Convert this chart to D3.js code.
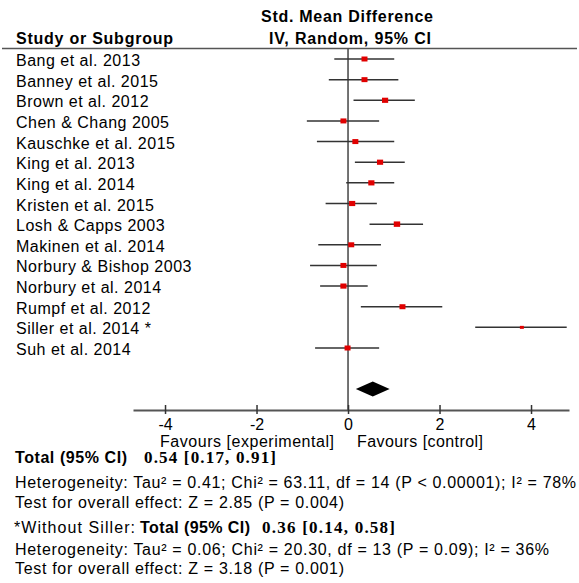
<!DOCTYPE html>
<html>
<head>
<meta charset="utf-8">
<script src="https://cdn.jsdelivr.net/npm/d3@7"></script>
<style>
  body { margin: 0; background: #fff; }
  svg { display: block; font-family: "Liberation Sans", Arial, sans-serif; }
</style>
</head>
<body>
<div id="chart"></div>
<script>
// study rows
const studies = [
  'Bang et al. 2013', 'Banney et al. 2015', 'Brown et al. 2012', 'Chen & Chang 2005',
  'Kauschke et al. 2015', 'King et al. 2013', 'King et al. 2014', 'Kristen et al. 2015',
  'Losh & Capps 2003', 'Makinen et al. 2014', 'Norbury & Bishop 2003', 'Norbury et al. 2014',
  'Rumpf et al. 2012', 'Siller et al. 2014 *', 'Suh et al. 2014'
];
const estimates = [0.36, 0.36, 0.81, -0.10, 0.16, 0.70, 0.51, 0.09, 1.07, 0.07, -0.10, -0.10, 1.19, 3.80, -0.01];
const lowers = [-0.30, -0.42, 0.12, -0.90, -0.68, 0.15, -0.04, -0.49, 0.47, -0.65, -0.83, -0.61, 0.28, 2.78, -0.72];
const uppers = [1.01, 1.10, 1.46, 0.68, 1.01, 1.24, 1.01, 0.63, 1.64, 0.72, 0.63, 0.43, 2.06, 4.78, 0.68];
const weights = [6.8, 6.8, 7.2, 6.8, 6.8, 7.2, 7.2, 7.2, 7.8, 6.8, 6.8, 7.2, 6.8, 3.0, 6.8];

const pooled = [0.54, 0.17, 0.91]; // estimate, lower, upper
const tickValues = [-4, -2, 0, 2, 4];
const axisExtent = [-4.7, 4.83];

const headerTop = 'Std. Mean Difference';
const headerLeft = 'Study or Subgroup';
const headerRight = 'IV, Random, 95% CI';
const favours = ['Favours [experimental]', 'Favours [control]'];

const totalLabel = 'Total (95% CI)';
const totalValue = '0.54 [0.17, 0.91]';
const heterogeneity1 = 'Heterogeneity: Tau² = 0.41; Chi² = 63.11, df = 14 (P < 0.00001); I² = 78%';
const overall1 = 'Test for overall effect: Z = 2.85 (P = 0.004)';
const withoutLabel = '*Without Siller:';
const totalValue2 = '0.36 [0.14, 0.58]';
const heterogeneity2 = 'Heterogeneity: Tau² = 0.06; Chi² = 20.30, df = 13 (P = 0.09); I² = 36%';
const overall2 = 'Test for overall effect: Z = 3.18 (P = 0.001)';

const width = 579;
const height = 583;
const fs = 16;

const svg = d3.select('#chart').append('svg')
  .attr('width', width)
  .attr('height', height);

const x = d3.scaleLinear().domain(axisExtent).range([133, 569]);
const y = d3.scalePoint().domain(studies).range([59, 348]);
const box = d3.scaleSqrt().domain([0, 8]).range([0, 6.5]);

const axisY = 410;
const headerLineY = 48.5;

// header
svg.append('text')
  .attr('x', x(0) - 1).attr('y', 22)
  .attr('text-anchor', 'middle')
  .attr('font-size', fs).attr('font-weight', 'bold')
  .attr('textLength', 172).attr('lengthAdjust', 'spacing')
  .text(headerTop);
svg.append('text')
  .attr('x', x(0) + 2).attr('y', 44)
  .attr('text-anchor', 'middle')
  .attr('font-size', fs).attr('font-weight', 'bold')
  .attr('textLength', 162).attr('lengthAdjust', 'spacing')
  .text(headerRight);
svg.append('text')
  .attr('x', 16).attr('y', 44)
  .attr('font-size', fs).attr('font-weight', 'bold')
  .attr('textLength', 157).attr('lengthAdjust', 'spacing')
  .text(headerLeft);
svg.append('line')
  .attr('x1', 2).attr('x2', 577)
  .attr('y1', headerLineY).attr('y2', headerLineY)
  .attr('stroke', '#555').attr('stroke-width', 1.5);

// zero line
svg.append('line')
  .attr('x1', x(0)).attr('x2', x(0))
  .attr('y1', headerLineY).attr('y2', axisY)
  .attr('stroke', '#444').attr('stroke-width', 1.5);

// study labels
svg.append('g').selectAll('text')
  .data(studies)
  .join('text')
  .attr('x', 16)
  .attr('y', d => y(d) + 7)
  .attr('font-size', fs)
  .attr('letter-spacing', 0.5)
  .text(d => d);

// confidence intervals
const rows = studies.map((s, i) => ({
  name: s, est: estimates[i], lo: lowers[i], hi: uppers[i], w: weights[i]
}));

svg.append('g').selectAll('line')
  .data(rows)
  .join('line')
  .attr('x1', d => x(d.lo))
  .attr('x2', d => x(d.hi))
  .attr('y1', d => y(d.name))
  .attr('y2', d => y(d.name))
  .attr('stroke', '#333')
  .attr('stroke-width', 1.5);

svg.append('g').selectAll('rect')
  .data(rows)
  .join('rect')
  .attr('x', d => x(d.est) - box(d.w) / 2)
  .attr('y', d => y(d.name) - box(d.w) / 2 + 0.5)
  .attr('width', d => box(d.w))
  .attr('height', d => box(d.w) - 1)
  .attr('fill', '#e00000');

// pooled diamond
const diamondY = 389;
svg.append('path')
  .attr('d', d3.line()([
    [x(pooled[1]), diamondY],
    [x(pooled[0]), diamondY - 7.5],
    [x(pooled[2]), diamondY],
    [x(pooled[0]), diamondY + 7.5]
  ]) + 'Z')
  .attr('fill', '#000');

// axis
const axis = svg.append('g')
  .attr('transform', `translate(0,${axisY})`)
  .call(d3.axisBottom(x).tickValues(tickValues).tickSizeOuter(0).tickSizeInner(4).tickPadding(6));

axis.select('.domain').attr('stroke', '#555').attr('stroke-width', 2);
axis.selectAll('.tick line')
  .attr('y1', -5).attr('y2', 4)
  .attr('stroke', '#333').attr('stroke-width', 1.5);
axis.selectAll('.tick text')
  .attr('y', 20).attr('dy', null)
  .attr('font-size', fs)
  .attr('font-family', '"Liberation Sans", Arial, sans-serif')
  .attr('fill', '#000')
  .text(d => d);

svg.append('text')
  .attr('x', 160).attr('y', 447)
  .attr('font-size', fs)
  .attr('textLength', 174).attr('lengthAdjust', 'spacing')
  .text(favours[0]);
svg.append('text')
  .attr('x', 357).attr('y', 447)
  .attr('font-size', fs)
  .attr('textLength', 126).attr('lengthAdjust', 'spacing')
  .text(favours[1]);

// summary text
const bold = (txt, xPos, yPos, len, serif) => svg.append('text')
  .attr('x', xPos).attr('y', yPos)
  .attr('font-size', serif ? 17 : fs).attr('font-weight', 'bold')
  .attr('font-family', serif ? '"Liberation Serif", "Times New Roman", serif' : null)
  .attr('textLength', len).attr('lengthAdjust', 'spacing')
  .text(txt);
const plain = (txt, xPos, yPos, len) => svg.append('text')
  .attr('x', xPos).attr('y', yPos)
  .attr('font-size', fs)
  .attr('textLength', len).attr('lengthAdjust', 'spacing')
  .text(txt);

bold(totalLabel, 15, 463, 112, false);
bold(totalValue, 144, 463, 132, true);
plain(heterogeneity1, 15, 488, 561);
plain(overall1, 15, 508, 329);

plain(withoutLabel, 14, 533, 121);
bold(totalLabel, 140, 533, 110, false);
bold(totalValue2, 262, 533, 133, true);
plain(heterogeneity2, 15, 555, 534);
plain(overall2, 15, 574, 329);
</script>
</body>
</html>
